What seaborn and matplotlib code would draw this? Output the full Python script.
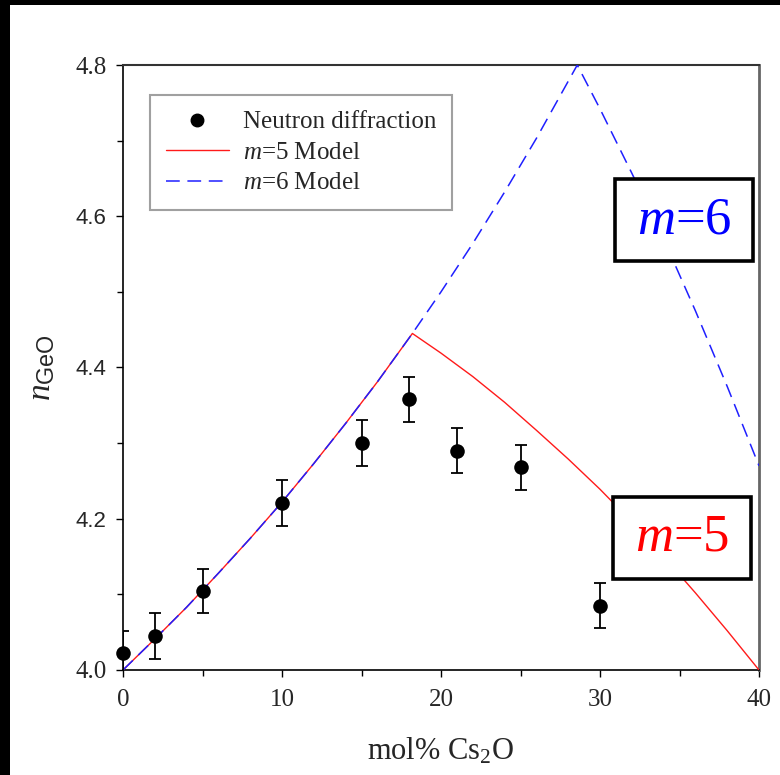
import matplotlib
matplotlib.use("Agg")
import matplotlib.pyplot as plt
from matplotlib.patches import Rectangle
from matplotlib.lines import Line2D
import seaborn as sns
import pandas as pd

# ---- data ----
exp_x = [0, 2, 5, 10, 15, 18, 21, 25, 30]
exp_y = [4.022, 4.045, 4.104, 4.221, 4.300, 4.358, 4.290, 4.268, 4.085]
exp_err = [0.030, 0.030, 0.029, 0.030, 0.030, 0.030, 0.030, 0.030, 0.030]

m5_x = [0, 2, 4, 6, 8, 10, 12, 14, 16, 18.2,
        20, 22, 24, 26, 28, 30, 32, 34, 36, 38, 40]
m5_y = [4.000, 4.041, 4.083, 4.128, 4.174, 4.222, 4.273, 4.326, 4.381, 4.445,
        4.419, 4.388, 4.354, 4.317, 4.279, 4.239, 4.196, 4.150, 4.102, 4.052, 4.000]

m6_x = [0, 2, 4, 6, 8, 10, 12, 14, 16, 18.2, 20, 22, 24, 26, 28.57,
        30, 32, 34, 36, 38, 40]
m6_y = [4.000, 4.041, 4.083, 4.128, 4.174, 4.222, 4.273, 4.326, 4.381, 4.445,
        4.500, 4.564, 4.632, 4.703, 4.800,
        4.742, 4.657, 4.570, 4.475, 4.375, 4.270]

x_ticks = [0, 10, 20, 30, 40]
y_ticks = [4.0, 4.2, 4.4, 4.6, 4.8]
y_tick_labels = ["4.0", "4.2", "4.4", "4.6", "4.8"]

legend_labels = ["Neutron diffraction", r"$m$=5 Model", r"$m$=6 Model"]
annot_labels = [r"$m$=6", r"$m$=5"]

# ---- style ----
sns.set_style("ticks")
plt.rcParams["font.family"] = ["Liberation Serif", "DejaVu Serif"]
plt.rcParams["mathtext.fontset"] = "custom"
plt.rcParams["mathtext.rm"] = "Liberation Serif"
plt.rcParams["mathtext.it"] = "Liberation Serif:italic"
plt.rcParams["mathtext.sf"] = "Liberation Sans"

fig = plt.figure(figsize=(7.8, 7.75), dpi=100)
ax = fig.add_axes([123 / 780, 1 - 670 / 775, (759 - 123) / 780, (670 - 65) / 775])

exp_df = pd.DataFrame({"x": exp_x, "y": exp_y, "err": exp_err})
m5_df = pd.DataFrame({"x": m5_x, "y": m5_y})
m6_df = pd.DataFrame({"x": m6_x, "y": m6_y})

RED = "#ff1a1a"
BLUE = "#1f1fff"

sns.lineplot(data=m5_df, x="x", y="y", ax=ax, color=RED, lw=1.0,
             sort=False, estimator=None, zorder=3)
sns.lineplot(data=m6_df, x="x", y="y", ax=ax, color=BLUE, lw=1.1,
             sort=False, estimator=None, linestyle=(0, (9, 5)), zorder=4)

ax.errorbar(exp_df["x"], exp_df["y"], yerr=exp_df["err"], fmt="none",
            ecolor="black", elinewidth=1.3, capsize=4.5, capthick=1.3, zorder=5)
sns.scatterplot(data=exp_df, x="x", y="y", ax=ax, color="black", s=110,
                edgecolor="black", linewidth=0, zorder=6, clip_on=False)

ax.set_xlim(0, 40)
ax.set_ylim(4.0, 4.8)
ax.set_xticks(x_ticks)
ax.set_xticklabels([str(t) for t in x_ticks])
ax.set_xticks([5, 15, 25, 35], minor=True)
ax.set_yticks(y_ticks)
ax.set_yticklabels(y_tick_labels)
ax.set_yticks([4.1, 4.3, 4.5, 4.7], minor=True)

ax.tick_params(axis="both", which="major", direction="out", length=5, width=1.0,
               color="black", labelsize=18, pad=7)
ax.tick_params(axis="both", which="minor", direction="out", length=4, width=1.0,
               color="black")
ax.tick_params(axis="x", which="major", pad=9)
for lab in ax.get_yticklabels():
    if lab.get_text() in ("4.2", "4.4", "4.6"):
        lab.set_fontfamily(["Liberation Sans", "DejaVu Sans"])
        lab.set_fontsize(16)

for side in ["left", "bottom"]:
    ax.spines[side].set_color("black")
    ax.spines[side].set_linewidth(1.2)
ax.spines["top"].set_color("#333333")
ax.spines["top"].set_linewidth(1.5)
ax.spines["right"].set_color("#666666")
ax.spines["right"].set_linewidth(2.0)

ax.set_xlabel(r"mol% Cs$_2$O", fontsize=22, labelpad=18)
ax.set_ylabel(r"$n_{\mathsf{GeO}}$", fontsize=24)
ax.yaxis.label.set_va("center")
ax.yaxis.set_label_coords(-0.127, 0.5)

handles = [
    Line2D([], [], marker="o", color="black", linestyle="none", markersize=9),
    Line2D([], [], color=RED, lw=1.0),
    Line2D([], [], color=BLUE, lw=1.1, linestyle=(0, (9, 5))),
]
leg = ax.legend(handles, legend_labels, loc="upper left",
                bbox_to_anchor=(0.0425, 0.950), borderaxespad=0,
                fontsize=18, frameon=True, fancybox=False,
                handlelength=2.55, handletextpad=0.55, labelspacing=0.32,
                borderpad=0.62)
leg.get_frame().set_edgecolor("#888888")
leg.get_frame().set_linewidth(1.5)

# annotation boxes (frames in axes fraction, text centred inside)
boxes = [(0.7736, 0.676, 0.217, 0.1356, "#0000ff"),
         (0.7704, 0.1504, 0.217, 0.1356, "#ff0000")]
for (bx, by, bw, bh, col), txt in zip(boxes, annot_labels):
    ax.add_patch(Rectangle((bx, by), bw, bh, transform=ax.transAxes,
                           facecolor="white", edgecolor="black", linewidth=2.6,
                           zorder=9, clip_on=False))
    ax.text(bx + bw / 2, by + bh / 2, txt, transform=ax.transAxes,
            ha="center", va="center", fontsize=38, color=col, zorder=10)

# black frame strips of the original picture
fig.add_artist(Rectangle((0, 1 - 5 / 775), 1, 5 / 775, transform=fig.transFigure,
                         facecolor="black", edgecolor="none"))
fig.add_artist(Rectangle((0, 0), 10 / 780, 1, transform=fig.transFigure,
                         facecolor="black", edgecolor="none"))

fig.savefig("out.png", dpi=100, facecolor="white")
